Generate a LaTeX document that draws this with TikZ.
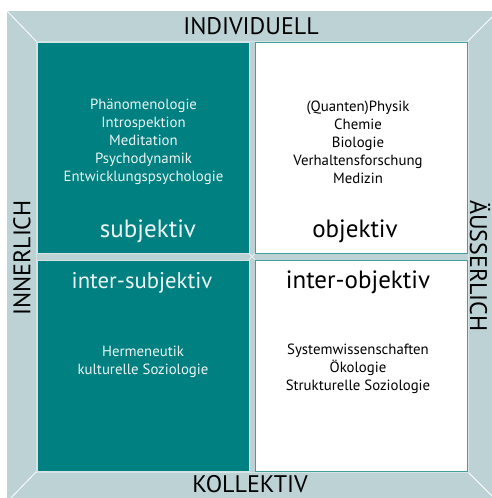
\documentclass[tikz,border=0pt]{standalone}
\usepackage{fontspec}
\setmainfont{PT Sans}
\definecolor{framecol}{RGB}{189,210,213}
\definecolor{tealq}{RGB}{0,128,128}
\definecolor{tealline}{RGB}{64,160,160}
\definecolor{lightline}{RGB}{215,228,230}
\definecolor{softwhite}{RGB}{236,244,244}
\begin{document}
\begin{tikzpicture}[x=1pt,y=-1pt,
  quad/.style={rectangle,anchor=north west,minimum width=212pt,minimum height=211pt,inner sep=0pt,line width=1.2pt},
  tealquad/.style={quad,fill=tealq,draw=lightline},
  whitequad/.style={quad,fill=white,draw=tealline},
  listw/.style={align=center,font=\fontsize{14.8}{18}\selectfont,text=softwhite,inner sep=0pt},
  listb/.style={align=center,font=\fontsize{14.8}{18}\selectfont,text=black,inner sep=0pt},
  bigw/.style={font=\fontsize{25}{28}\selectfont,text=softwhite,inner sep=0pt},
  bigb/.style={font=\fontsize{25}{28}\selectfont,text=black,inner sep=0pt},
  side/.style={font=\fontsize{24}{28}\selectfont,text=black,inner sep=0pt},
  diag/.style={draw=white,line width=0.8pt}]
\useasboundingbox (0,0) rectangle (492,498);
\clip (0,0) rectangle (492,498);
% frame
\fill[framecol] (7,11) rectangle (497,501);
\coordinate (o1) at (7,11);
\coordinate (o2) at (498,11);
\coordinate (o3) at (498,502);
\coordinate (o4) at (7,502);
\coordinate (i1) at (37,42);
\coordinate (i2) at (467,42);
\coordinate (i3) at (467,471);
\coordinate (i4) at (37,471);
\draw[diag] (o1) -- (i1);
\draw[diag] (o2) -- (i2);
\draw[diag] (o3) -- (i3);
\draw[diag] (o4) -- (i4);
\draw[draw=lightline,line width=0.8pt] (36,41) rectangle (468,472);
% quadrants
\node[tealquad] (tl) at (37,42) {};
\node[whitequad] (tr) at (255,42) {};
\node[tealquad] (bl) at (37,260) {};
\node[whitequad] (br) at (255,260) {};
% centre cross
\coordinate (c) at (252,256.5);
\draw[white,line width=0.6pt] ([shift={(-3,-3)}]c) -- ([shift={(3,3)}]c);
\draw[white,line width=0.6pt] ([shift={(-3,3)}]c) -- ([shift={(3,-3)}]c);
% texts
\node[listw] (tllist) at (143.5,142) {Phänomenologie\\Introspektion\\Meditation\\Psychodynamik\\Entwicklungspsychologie};
\node[bigw] (tlname) at (148,231) {subjektiv};
\node[listb] (trlist) at (358,142) {(Quanten)Physik\\Chemie\\Biologie\\Verhaltensforschung\\Medizin};
\node[bigb] (trname) at (355,231) {objektiv};
\node[bigw,font=\fontsize{22.7}{26}\selectfont] (blname) at (142,283) {inter-subjektiv};
\node[listw] (bllist) at (143,362) {Hermeneutik\\kulturelle Soziologie};
\node[bigb] (brname) at (358,282) {inter-objektiv};
\node[listb] (brlist) at (358,369) {Systemwissenschaften\\Ökologie\\Strukturelle Soziologie};
\node[side] (top) at (251,26.5) {INDIVIDUELL};
\node[side] (bottom) at (250,484.5) {KOLLEKTIV};
\node[side,rotate=90] (left) at (22,258) {INNERLICH};
\node[side,rotate=-90] (right) at (480,266) {ÄUSSERLICH};
\end{tikzpicture}
\end{document}
